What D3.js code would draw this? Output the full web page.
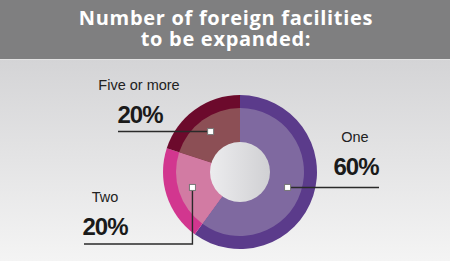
<!DOCTYPE html>
<html>
<head>
<meta charset="utf-8">
<script src="https://cdn.jsdelivr.net/npm/d3@7"></script>
<style>
  body { margin: 0; background: #fff; }
  svg { display: block; }
</style>
</head>
<body>
<svg id="chart" width="450" height="268"></svg>
<script>
// data
const categories = ["One", "Two", "Five or more"];
const values = [60, 20, 20];
const valueLabels = ["60%", "20%", "20%"];
const titleLines = ["Number of foreign facilities", "to be expanded:"];

const outerColors = ["#5b3b8b", "#d2368f", "#6c0a2c"];
const innerColors = ["#7f69a0", "#d27ba3", "#8c4f55"];

const W = 450, H = 268;
const cx = 240, cy = 172;

const svg = d3.select("#chart");
const defs = svg.append("defs");

// background gradient
const bg = defs.append("linearGradient").attr("id", "bg")
  .attr("x1", 0).attr("y1", 0).attr("x2", 0).attr("y2", 1);
bg.append("stop").attr("offset", "0%").attr("stop-color", "#d4d4d6");
bg.append("stop").attr("offset", "100%").attr("stop-color", "#f4f4f4");

const hole = defs.append("linearGradient").attr("id", "hole")
  .attr("x1", 0).attr("y1", 0).attr("x2", 1).attr("y2", 0);
hole.append("stop").attr("offset", "0%").attr("stop-color", "#ececee");
hole.append("stop").attr("offset", "100%").attr("stop-color", "#d0d0d3");

svg.append("rect").attr("width", W).attr("height", H).attr("fill", "#fff");
svg.append("rect").attr("y", 59).attr("width", W).attr("height", 202).attr("fill", "url(#bg)");
svg.append("rect").attr("width", W).attr("height", 59).attr("fill", "#7f7f80");
svg.append("rect").attr("y", 59).attr("width", W).attr("height", 1).attr("fill", "#e2e2e2");

// title
svg.append("g").selectAll("text")
  .data(titleLines)
  .enter().append("text")
    .attr("x", 226)
    .attr("y", (d, i) => 25 + i * 21)
    .attr("text-anchor", "middle")
    .attr("fill", "#fff")
    .style("font-family", "'Open Sans', sans-serif")
    .style("font-weight", "700")
    .style("font-size", "20px")
    .style("letter-spacing", "0.7px")
    .text(d => d);

// pie
const pie = d3.pie().sort(null).value(d => d)(values);
const outerArc = d3.arc().innerRadius(0).outerRadius(77);
const innerArc = d3.arc().innerRadius(0).outerRadius(64);
const markArc = d3.arc().innerRadius(36).outerRadius(64);

const g = svg.append("g").attr("transform", `translate(${cx},${cy})`);

g.selectAll("path.outer")
  .data(pie)
  .enter().append("path")
    .attr("class", "outer")
    .attr("d", outerArc)
    .attr("fill", (d, i) => outerColors[i]);

g.selectAll("path.inner")
  .data(pie)
  .enter().append("path")
    .attr("class", "inner")
    .attr("d", innerArc)
    .attr("fill", (d, i) => innerColors[i]);

g.append("circle").attr("r", 30).attr("fill", "url(#hole)");

// labels (positions are layout only)
const labelPos = [
  { nameX: 355, nameY: 142, valX: 356, valY: 175, lineY: 184, lineX: 379, drop: false },
  { nameX: 105, nameY: 202, valX: 105, valY: 235, lineY: 244, lineX: 84, drop: true },
  { nameX: 139, nameY: 90, valX: 140, valY: 123, lineY: 132, lineX: 118, drop: false }
];

pie.forEach((d, i) => {
  const c = markArc.centroid(d);
  const px = cx + c[0], py = cy + c[1];
  const p = labelPos[i];

  if (p.drop) {
    svg.append("polyline")
      .attr("points", `${px},${py} ${px},${p.lineY} ${p.lineX},${p.lineY}`)
      .attr("fill", "none").attr("stroke", "#2a2a2a").attr("stroke-width", 1.4);
  } else {
    svg.append("line")
      .attr("x1", px).attr("y1", py).attr("x2", p.lineX).attr("y2", py)
      .attr("stroke", "#2a2a2a").attr("stroke-width", 1.6);
  }
  svg.append("rect")
    .attr("x", px - 3).attr("y", py - 3).attr("width", 6).attr("height", 6)
    .attr("fill", "#fff").attr("stroke", "#777").attr("stroke-width", 1);

  svg.append("text")
    .attr("x", p.nameX).attr("y", p.nameY)
    .attr("text-anchor", "middle")
    .attr("fill", "#222")
    .style("font-family", "'Liberation Sans', Arial, sans-serif")
    .style("font-size", "14.5px")
    .text(categories[i]);

  svg.append("text")
    .attr("x", p.valX).attr("y", p.valY)
    .attr("text-anchor", "middle")
    .attr("fill", "#1a1a1a")
    .style("font-family", "'Liberation Sans', Arial, sans-serif")
    .style("font-weight", "700")
    .style("font-size", "24px")
    .style("letter-spacing", "-1px")
    .text(valueLabels[i]);
});
</script>
</body>
</html>
